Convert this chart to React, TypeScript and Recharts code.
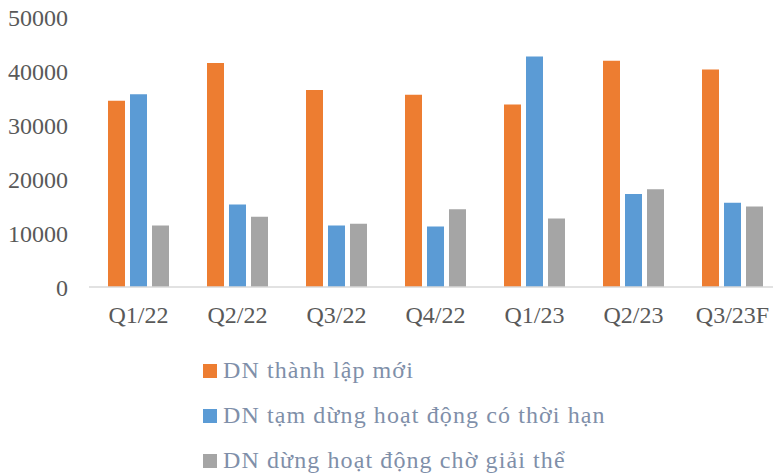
import { BarChart, Bar, XAxis, YAxis } from "recharts";

const quarters = ["Q1/22", "Q2/22", "Q3/22", "Q4/22", "Q1/23", "Q2/23", "Q3/23F"];
const newFirms = [34500, 41500, 36500, 35600, 33800, 41900, 40300];
const suspended = [35700, 15300, 11400, 11200, 42700, 17200, 15600];
const dissolving = [11400, 13000, 11700, 14400, 12700, 18100, 14900];
const yTicks = [0, 10000, 20000, 30000, 40000, 50000];

const SERIES = [
  { key: "newFirms", name: "DN thành lập mới", color: "#ED7D31" },
  { key: "suspended", name: "DN tạm dừng hoạt động có thời hạn", color: "#5B9BD5" },
  { key: "dissolving", name: "DN dừng hoạt động chờ giải thể", color: "#A5A5A5" },
];

const data = quarters.map((q, i) => ({
  quarter: q,
  newFirms: newFirms[i],
  suspended: suspended[i],
  dissolving: dissolving[i],
}));

const FONT = "'Liberation Serif', 'Times New Roman', serif";

export default function App() {
  return (
    <div
      style={{
        position: "fixed",
        top: 0,
        left: 0,
        width: 773,
        height: 476,
        overflow: "hidden",
        background: "#fff",
      }}
    >
      <BarChart
        width={782}
        height={340}
        data={data}
        margin={{ top: 17, right: 0, bottom: 13, left: 0 }}
        barCategoryGap="19%"
        barGap={5}
      >
        <XAxis
          dataKey="quarter"
          interval={0}
          axisLine={{ stroke: "#D9D9D9", strokeWidth: 1.5 }}
          tickLine={false}
          height={40}
          tick={{ fill: "#595959", fontSize: 24, fontFamily: FONT }}
          tickMargin={13}
        />
        <YAxis
          width={89}
          domain={[0, 50000]}
          ticks={yTicks}
          interval={0}
          axisLine={false}
          tickLine={false}
          tickMargin={15}
          tick={{ fill: "#595959", fontSize: 24, fontFamily: FONT }}
        />
        {SERIES.map((s) => (
          <Bar
            key={s.key}
            dataKey={s.key}
            name={s.name}
            fill={s.color}
            barSize={17}
            isAnimationActive={false}
          />
        ))}
      </BarChart>
      <div
        style={{
          position: "absolute",
          top: 348,
          left: 203,
          fontFamily: FONT,
          fontSize: 24,
          letterSpacing: 1.1,
          color: "#7F8FA9",
          whiteSpace: "nowrap",
        }}
      >
        {SERIES.map((s) => (
          <div key={s.key} style={{ display: "flex", alignItems: "center", height: 45 }}>
            <div style={{ width: 14, height: 14, background: s.color, marginRight: 6 }} />
            <span>{s.name}</span>
          </div>
        ))}
      </div>
    </div>
  );
}
